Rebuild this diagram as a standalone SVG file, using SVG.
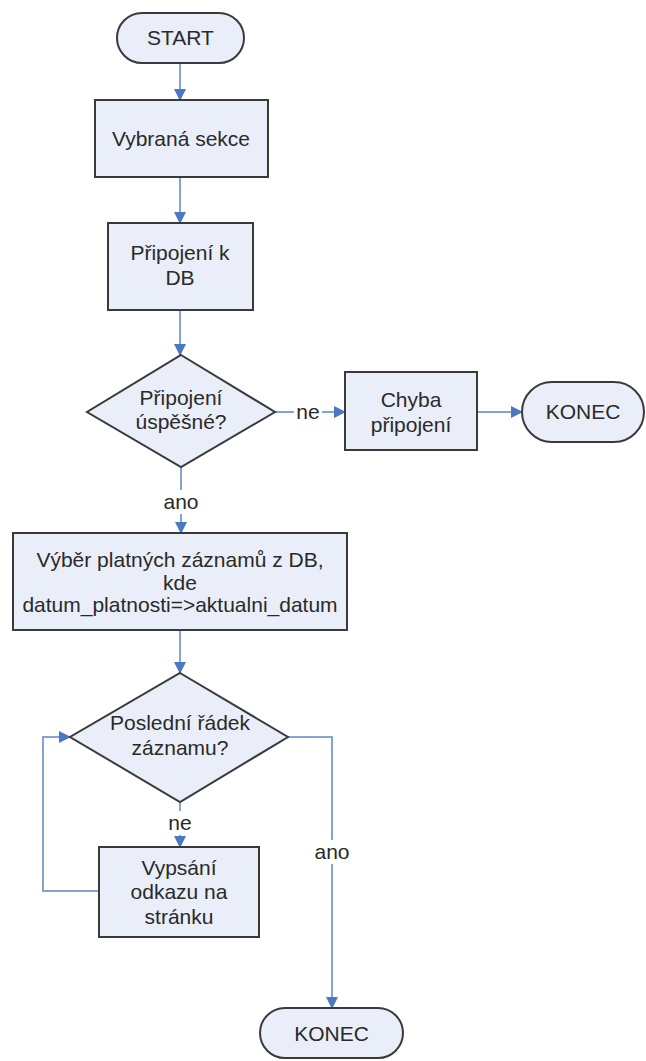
<svg xmlns="http://www.w3.org/2000/svg" width="646" height="1061" viewBox="0 0 646 1061">
<style>
.n{fill:#e9eef8;stroke:#3a3a3a;stroke-width:2}
.t{font-family:"Liberation Sans",Arial,sans-serif;font-size:21px;fill:#2a2a2a;text-anchor:middle}
.c{fill:none;stroke:#86a3d6;stroke-width:2}
.lb{fill:#ffffff}
</style>
<defs>
<marker id="ah" viewBox="0 0 12 12" refX="11" refY="6" markerWidth="12" markerHeight="12" markerUnits="userSpaceOnUse" orient="auto">
<path d="M0,0 L12,6 L0,12 Z" fill="#4a78c2"/>
</marker>
</defs>
<rect width="646" height="1061" fill="#ffffff"/>
<g id="connectors">
<path class="c" d="M180,63 V100" marker-end="url(#ah)"/>
<path class="c" d="M180,177 V223" marker-end="url(#ah)"/>
<path class="c" d="M180,310 V355" marker-end="url(#ah)"/>
<path class="c" d="M275,412 H345" marker-end="url(#ah)"/>
<path class="c" d="M477,412 H522" marker-end="url(#ah)"/>
<path class="c" d="M181,467 V533" marker-end="url(#ah)"/>
<path class="c" d="M180,630 V673" marker-end="url(#ah)"/>
<path class="c" d="M180,802 V847" marker-end="url(#ah)"/>
<path class="c" d="M99,891 H43 V737 H70" marker-end="url(#ah)"/>
<path class="c" d="M288,737 H332 V1008" marker-end="url(#ah)"/>
<rect class="lb" x="294" y="400" width="28" height="24"/>
<text class="t" x="308" y="419">ne</text>
<rect class="lb" x="164" y="490" width="34" height="24"/>
<text class="t" x="181" y="509">ano</text>
<rect class="lb" x="166" y="811" width="28" height="24"/>
<text class="t" x="180" y="830">ne</text>
<rect class="lb" x="315" y="840" width="34" height="24"/>
<text class="t" x="332" y="859">ano</text>
</g>
<g id="start">
<rect class="n" x="117" y="13" width="127" height="50" rx="25" ry="25"/>
<text class="t" x="180.5" y="45">START</text>
</g>
<g id="vybrana">
<rect class="n" x="95" y="100" width="173" height="77"/>
<text class="t" x="181" y="146">Vybraná sekce</text>
</g>
<g id="pripojeni">
<rect class="n" x="108" y="223" width="145" height="87"/>
<text class="t" x="180" y="260">Připojení k</text>
<text class="t" x="180" y="285">DB</text>
</g>
<g id="uspesne">
<polygon class="n" points="181,355 275,412 181,467 87,412"/>
<text class="t" x="181" y="405">Připojení</text>
<text class="t" x="181" y="429">úspěšné?</text>
</g>
<g id="chyba">
<rect class="n" x="345" y="372" width="132" height="78"/>
<text class="t" x="411" y="407">Chyba</text>
<text class="t" x="411" y="432">připojení</text>
</g>
<g id="konec1">
<rect class="n" x="522" y="382" width="122" height="60" rx="30" ry="30"/>
<text class="t" x="583" y="419">KONEC</text>
</g>
<g id="vyber">
<rect class="n" x="13" y="533" width="334" height="97"/>
<text class="t" x="180" y="567">Výběr platných záznamů z DB,</text>
<text class="t" x="180" y="590">kde</text>
<text class="t" x="180" y="612">datum_platnosti=&gt;aktualni_datum</text>
</g>
<g id="posledni">
<polygon class="n" points="180,673 288,737 180,802 70,737"/>
<text class="t" x="180" y="730">Poslední řádek</text>
<text class="t" x="180" y="755">záznamu?</text>
</g>
<g id="vypsani">
<rect class="n" x="99" y="847" width="160" height="90"/>
<text class="t" x="179" y="875">Vypsání</text>
<text class="t" x="179" y="899">odkazu na</text>
<text class="t" x="179" y="924">stránku</text>
</g>
<g id="konec2">
<rect class="n" x="260" y="1008" width="143" height="50" rx="25" ry="25"/>
<text class="t" x="331.5" y="1041">KONEC</text>
</g>
</svg>
